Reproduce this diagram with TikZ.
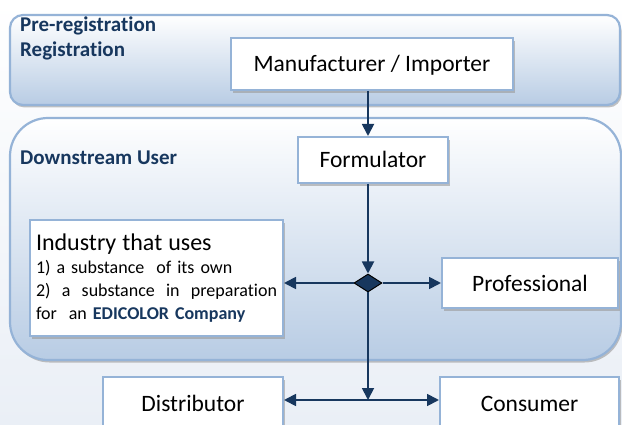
\documentclass[tikz,border=0pt]{standalone}
\usepackage{fontspec}
\setmainfont{Carlito}[Ligatures={NoCommon,NoContextual}]
\usetikzlibrary{arrows.meta,shapes.geometric,shadows}
\definecolor{edinavy}{RGB}{23,55,94}
\definecolor{edirim}{RGB}{149,179,215}
\definecolor{edifill}{RGB}{184,204,228}
\definecolor{edibg}{RGB}{234,239,246}

\begin{document}
\begin{tikzpicture}[x=1pt, y=-1pt,
	panel/.style={draw=edirim, line width=2.2pt, top color=white, bottom color=edifill, inner sep=0pt, drop shadow={shadow xshift=1.5pt, shadow yshift=-2.5pt, fill=gray!80, opacity=.6}},
	card/.style={draw=edirim, line width=2pt, fill=white, drop shadow={shadow xshift=2pt, shadow yshift=-3pt, fill=gray!80, opacity=.6}},
	word/.style={card, inner sep=0pt, text height=17pt, text depth=1pt, font=\fontsize{23.5}{26}\selectfont},
	head/.style={inner sep=0pt, anchor=base west, text=edinavy, font=\fontsize{21}{24}\selectfont\bfseries},
	flow/.style={draw=edinavy, line width=1.8pt, -{Triangle[length=12pt,width=12pt]}},
	twoway/.style={flow, {Triangle[length=12pt,width=12pt]}-{Triangle[length=12pt,width=12pt]}}]
	\clip (0,0) rectangle (622,425);
	\shade[top color=white, bottom color=edibg] (0,0) rectangle (622,425);

	\node[panel, rounded corners=13pt, minimum width=610pt, minimum height=90pt] (regpanel) at (315,60) {};
	\node[panel, rounded corners=38pt, minimum width=611pt, minimum height=242pt] (userpanel) at (315.5,239) {};
	\node[head] (prereg) at (20,32) {Pre-registration};
	\node[head] (reg) at (20,57) {Registration};
	\node[head] (downuser) at (20,165) {Downstream User};

	\node[word, minimum width=282pt, minimum height=52pt] (maker) at (372,64) {Manufacturer / Importer};
	\node[word, minimum width=150pt, minimum height=46pt] (form) at (373,160) {Formulator};
	\node[word, minimum width=176pt, minimum height=50pt] (prof) at (530,283) {Professional};
	\node[word, minimum width=180pt, minimum height=52pt] (dist) at (193,403) {Distributor};
	\node[word, minimum width=179pt, minimum height=52pt] (cons) at (529.5,403) {Consumer};
	\node[card, minimum width=253pt, minimum height=116pt, text width=241pt, align=left, inner sep=6pt, font=\fontsize{18}{23}\selectfont] (industry) at (156.5,278)
		{{\fontsize{24}{24}\selectfont Industry that uses}\\
		1)\ a substance\ \ of its own\\
		\leavevmode\hbox to 241pt{2)\hfill a\hfill substance\hfill in\hfill preparation}\\
		for\ \ an \textcolor{edinavy}{\bfseries EDICOLOR Company}};
	\node[diamond, draw=black, fill=edinavy, line width=1pt, minimum width=28pt, minimum height=18pt, inner sep=0pt] (split) at (368,283) {};
	\coordinate (fork) at (368,400);

	\draw[flow] (maker.south -| split) -- (form.north -| split);
	\draw[flow] (form.south -| split) -- (split.north);
	\draw[flow] (split.west) -- (split -| industry.east);
	\draw[flow] (split.east) -- (split -| prof.west);
	\draw[flow] (split.south) -- (fork);
	\draw[twoway] (fork -| dist.east) -- (fork -| cons.west);
\end{tikzpicture}
\end{document}
